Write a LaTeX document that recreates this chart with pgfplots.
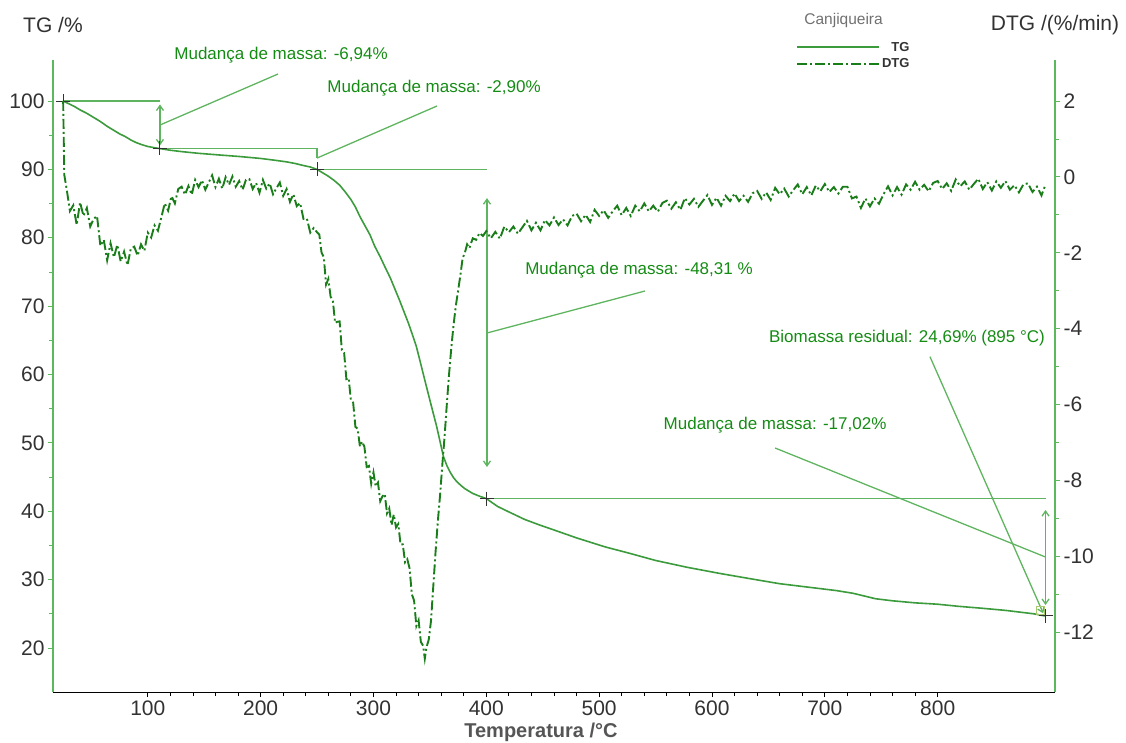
\documentclass[border=0pt]{standalone}
\usepackage{pgfplots}
\pgfplotsset{compat=1.18}
\usepackage{fontspec}
\setmainfont{Liberation Sans}
\usetikzlibrary{arrows.meta}
\definecolor{axisgreen}{RGB}{92,184,92}
\definecolor{tggreen}{RGB}{60,155,60}
\definecolor{dtggreen}{RGB}{25,125,25}
\definecolor{annogreen}{RGB}{95,180,95}
\definecolor{txtgreen}{RGB}{20,140,20}
\definecolor{tickgray}{RGB}{50,50,50}

\pgfplotstableread{
T TG
25 100
30 99.6
35 99.2
40 98.7
46 98.2
52 97.6
58 97.0
64 96.3
69 95.8
75 95.2
80 94.8
85 94.3
90 93.9
95 93.6
100 93.35
105 93.2
110 93.06
120 92.8
130 92.6
145 92.35
164 92.1
180 91.9
200 91.6
212 91.35
223 91.1
231 90.85
237 90.6
244 90.35
250 90.0
255 89.5
260 89.0
265 88.4
270 87.7
275 86.7
280 85.6
284 84.5
288 83.1
292 81.9
297 80.4
301 78.8
306 77.2
310 75.8
315 74.1
319 72.5
323 70.9
327 69.2
331 67.5
335 65.6
338 64.1
342 61.5
347 58.2
351 55.6
356 52.4
359 50.2
362 48.0
365 46.7
368 45.7
371 44.9
374 44.3
378 43.7
381 43.3
385 42.9
388 42.6
394 42.2
400 41.85
410 40.7
420 39.9
434 38.8
447 38.0
461 37.2
480 36.1
505 34.8
528 33.8
550 32.8
578 31.8
607 30.9
635 30.1
660 29.4
690 28.8
710 28.4
725 28.0
735 27.6
745 27.2
760 26.9
780 26.6
800 26.4
818 26.1
840 25.8
860 25.5
875 25.2
885 25.0
895 24.69
}\tgdata

\pgfplotstableread{
T DTG
25 2.0
26 0.05
28 -0.30
31 -0.90
34 -0.75
37 -1.27
40 -0.67
43 -1.03
46 -0.82
49 -1.31
52 -1.11
55 -1.03
58 -1.82
61 -1.66
64 -2.20
67 -1.75
70 -2.12
73 -1.79
76 -2.23
79 -1.97
82 -2.33
85 -1.89
88 -1.84
91 -2.08
94 -1.78
97 -1.95
100 -1.47
103 -1.60
106 -1.28
109 -1.42
112 -1.07
115 -0.70
118 -0.89
121 -0.51
124 -0.70
127 -0.32
130 -0.26
133 -0.47
136 -0.24
139 -0.47
142 -0.08
145 -0.27
148 -0.09
151 -0.34
154 -0.15
157 0.04
160 -0.27
163 -0.05
166 -0.31
169 -0.01
172 -0.21
175 0.01
178 -0.26
181 -0.11
184 -0.34
187 -0.08
190 -0.06
193 -0.32
196 -0.16
199 -0.42
202 -0.08
205 -0.31
208 -0.17
211 -0.46
214 -0.30
217 -0.15
220 -0.50
223 -0.32
226 -0.66
229 -0.46
232 -0.77
235 -0.69
238 -1.11
241 -1.10
244 -1.47
247 -1.35
250 -1.46
252 -1.52
254 -2.00
256 -2.12
258 -2.84
260 -2.69
262 -3.16
264 -3.26
266 -3.85
268 -3.82
270 -3.81
272 -4.57
274 -4.64
276 -5.33
278 -5.30
280 -5.89
282 -5.95
284 -6.59
286 -6.64
288 -7.11
290 -6.98
292 -7.12
294 -7.65
296 -7.62
298 -8.09
300 -7.79
302 -8.16
304 -8.06
306 -8.55
308 -8.42
310 -8.36
312 -8.87
314 -8.74
316 -9.18
318 -8.90
320 -9.24
322 -9.15
324 -9.69
326 -9.69
328 -10.16
330 -10.08
332 -10.32
334 -11.00
336 -11.17
338 -11.84
340 -11.69
342 -12.26
344 -12.36
345.5 -12.70
347 -12.40
349 -12.20
351 -11.70
353 -10.80
355 -9.90
357 -9.10
359 -8.40
361 -7.60
363 -6.86
365 -6.00
367 -5.20
369 -4.50
371 -3.90
373 -3.40
375 -3.00
377 -2.60
379 -2.15
381 -2.00
383 -1.78
385 -1.88
388 -1.62
391 -1.66
394 -1.48
397 -1.56
400 -1.43
404 -1.62
408 -1.45
412 -1.63
416 -1.31
420 -1.46
424 -1.31
428 -1.50
432 -1.33
436 -1.16
440 -1.41
444 -1.21
448 -1.41
452 -1.14
456 -1.28
460 -1.07
464 -1.27
468 -1.12
472 -1.28
476 -1.03
480 -0.97
484 -1.17
488 -1.00
492 -1.19
496 -0.87
500 -1.03
504 -0.88
508 -1.08
512 -0.91
516 -0.76
520 -1.01
524 -0.82
528 -1.03
532 -0.76
536 -0.91
540 -0.70
544 -0.91
548 -0.76
552 -0.92
556 -0.69
560 -0.63
564 -0.84
568 -0.67
572 -0.87
576 -0.56
580 -0.73
584 -0.58
588 -0.79
592 -0.63
596 -0.48
600 -0.74
604 -0.55
608 -0.76
612 -0.50
616 -0.64
620 -0.44
624 -0.64
628 -0.50
632 -0.66
636 -0.43
640 -0.37
644 -0.58
648 -0.41
652 -0.61
656 -0.29
660 -0.46
664 -0.31
668 -0.52
672 -0.35
676 -0.20
680 -0.46
684 -0.27
688 -0.49
692 -0.23
696 -0.38
700 -0.19
704 -0.40
708 -0.27
712 -0.44
716 -0.26
720 -0.26
724 -0.57
728 -0.52
732 -0.82
736 -0.57
740 -0.78
744 -0.57
748 -0.71
752 -0.46
756 -0.25
760 -0.49
764 -0.27
768 -0.47
772 -0.20
776 -0.34
780 -0.13
784 -0.34
788 -0.21
792 -0.38
796 -0.16
800 -0.11
804 -0.32
808 -0.17
812 -0.37
816 -0.07
820 -0.25
824 -0.12
828 -0.34
832 -0.19
836 -0.05
840 -0.32
844 -0.14
848 -0.36
852 -0.12
856 -0.29
860 -0.11
864 -0.34
868 -0.22
872 -0.41
876 -0.20
880 -0.17
884 -0.40
888 -0.26
892 -0.49
895 -0.25
}\dtgdata

\pgfplotstableread{
T TG
25 100
110.8 93.06
250 90.0
400.6 41.85
895.6 24.69
}\markdata

\pgfplotsset{
  mybase/.style={
    scale only axis, width=1002pt, height=632pt,
    at={(0pt,0pt)}, anchor=south west,
    xmin=16, xmax=904,
    clip=false,
    tick align=outside,
    major tick length=5pt, minor tick length=4pt,
    /pgf/number format/assume math mode=true,
    tick label style={font=\fontsize{21}{24}\selectfont, text=tickgray},
  },
  dtgstyle/.style={dtggreen, line width=1.9pt, dash pattern=on 10pt off 3pt on 2pt off 3pt},
  tgstyle/.style={tggreen, line width=1.6pt},
}
\tikzset{anno/.style={annogreen, line width=1.3pt},
  annotext/.style={txtgreen, font=\fontsize{17}{20}\selectfont, inner sep=0pt},
  barb/.style={{Straight Barb[length=5pt,width=7pt]}-{Straight Barb[length=5pt,width=7pt]}}}

\begin{document}
\begin{tikzpicture}
\useasboundingbox (-53pt,-50pt) rectangle (1073pt,692pt);
\begin{axis}[mybase,
  ymin=13.56, ymax=106,
  axis y line*=left, axis x line*=bottom,
  xtick={100,200,...,800}, minor x tick num=4,
  ytick={20,30,...,100}, minor y tick num=1,
  y axis line style={draw=axisgreen, line width=1.2pt},
  x axis line style={draw=black, line width=1pt},
  xtick style={draw=black, line width=0.8pt},
  ytick style={draw=axisgreen, line width=0.8pt},
  legend style={at={(0.7415,1.032)}, anchor=north west, draw=none, fill=none,
    font=\bfseries\fontsize{13}{13}\selectfont, text=tickgray, row sep=2pt, inner sep=0pt},
  legend cell align=right,
  legend image code/.code={\draw[#1] (0pt,0pt) -- (82pt,0pt);},
]
\addplot[tgstyle] table[x=T, y=TG] {\tgdata};
\addlegendentry{TG}
\addlegendimage{dtgstyle}
\addlegendentry{DTG}
% annotations
\draw[anno] (axis cs:25,100) -- (axis cs:110.8,100);
\draw[anno, barb] (axis cs:110.8,99.5) -- (axis cs:110.8,93.5);
\draw[anno] (axis cs:110.8,96.49) -- (axis cs:215.4,103.95);
\node[annotext] at (axis cs:218.1,106.73) {Mudança de massa: -6,94\%};
\draw[anno] (axis cs:110.8,93.06) -- (axis cs:250,93.06) -- (axis cs:250,91.66);
\draw[anno] (axis cs:250,91.66) -- (axis cs:356.3,99.27);
\node[annotext] at (axis cs:353.7,101.9) {Mudança de massa: -2,90\%};
\draw[anno] (axis cs:250,90.0) -- (axis cs:401,90.0);
\draw[anno, barb] (axis cs:400.6,85.8) -- (axis cs:400.6,46.47);
\draw[anno] (axis cs:400.6,66.07) -- (axis cs:540.6,72.21);
\node[annotext] at (axis cs:535.3,75.28) {Mudança de massa: -48,31 \%};
\draw[anno] (axis cs:400.6,41.85) -- (axis cs:895.6,41.85);
\draw[anno, barb] (axis cs:895.6,40.18) -- (axis cs:895.6,26.28);
\draw[anno] (axis cs:895.6,33.3) -- (axis cs:655.9,49.25);
\node[annotext] at (axis cs:655.9,52.61) {Mudança de massa: -17,02\%};
\draw[anno, -{Straight Barb[length=5pt,width=7pt]}] (axis cs:793.2,62.6) -- (axis cs:893.6,25.07);
\node[annotext] at (axis cs:772.8,65.34) {Biomassa residual: 24,69\% (895 °C)};
\draw[anno, line width=0.8pt, draw={rgb,255:red,170;green,200;blue,110}] (axis cs:887.2,24.97) rectangle (axis cs:894.2,26.13);
\addplot[only marks, mark=+, mark size=7pt, mark options={draw=tickgray, line width=1pt}, forget plot] table[x=T, y=TG] {\markdata};
% labels
\node[font=\fontsize{21}{24}\selectfont, text=tickgray] at (rel axis cs:0,1.0554) {TG /\%};
\node[font=\fontsize{21}{24}\selectfont, text=tickgray] at (rel axis cs:1.0,1.0554) {DTG /(\%/min)};
\node[font=\fontsize{15.5}{18}\selectfont, text={rgb,255:red,112;green,112;blue,112}] at (rel axis cs:0.789,1.0633) {Canjiqueira};
\node[font=\bfseries\fontsize{20}{24}\selectfont, text={rgb,255:red,85;green,85;blue,85}] at (rel axis cs:0.487,-0.0633) {Temperatura /°C};
\end{axis}
\begin{axis}[mybase,
  ymin=-13.58, ymax=3.08,
  axis y line*=right, axis x line=none,
  xtick=\empty,
  ytick={-12,-10,...,2}, minor y tick num=1,
  y axis line style={draw=axisgreen, line width=1.2pt},
  ytick style={draw=axisgreen, line width=0.8pt},
]
\addplot[dtgstyle] table[x=T, y=DTG] {\dtgdata};
\end{axis}
\end{tikzpicture}
\end{document}
